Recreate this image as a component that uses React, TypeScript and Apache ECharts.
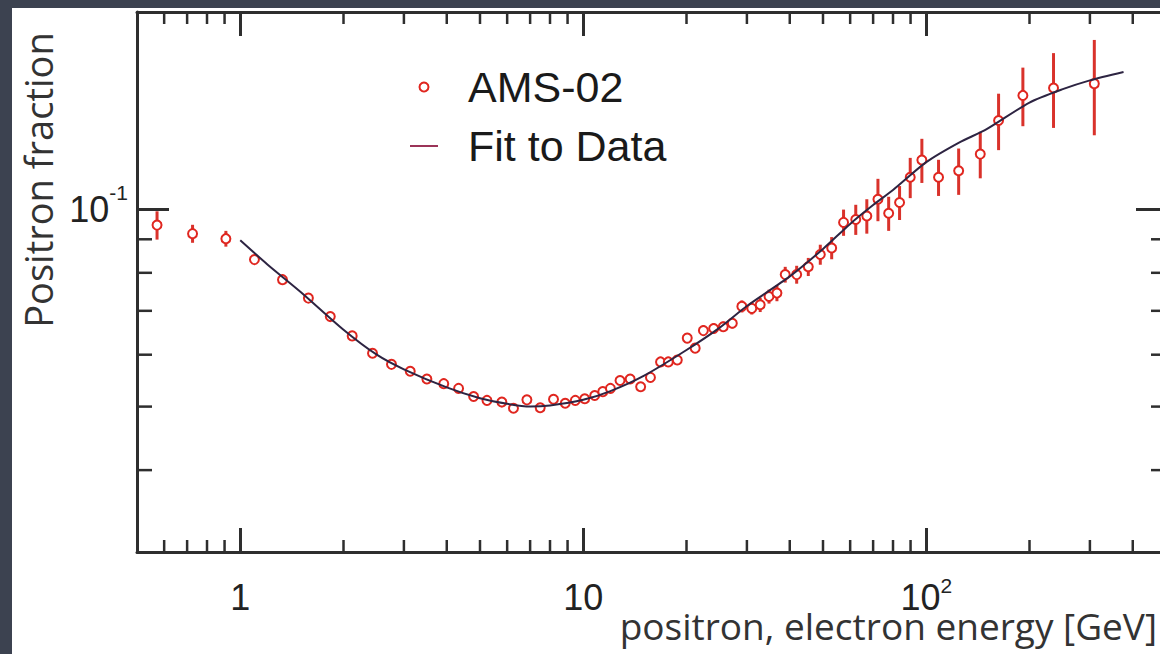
import React, { useEffect, useRef } from "react";
import * as echarts from "echarts";

// AMS-02 positron fraction data points (energy in GeV)
const energy = [
  0.572, 0.726, 0.908, 1.1, 1.328, 1.58, 1.83, 2.12, 2.43, 2.76,
  3.13, 3.5, 3.92, 4.33, 4.79, 5.24, 5.79, 6.26, 6.85, 7.49,
  8.19, 8.86, 9.48, 10.1, 10.8, 11.4, 12.0, 12.8, 13.7, 14.7,
  15.7, 16.8, 17.7, 18.8, 20.1, 21.2, 22.4, 24.0, 25.6, 27.2,
  29.0, 31.0, 32.8, 34.8, 36.7, 38.8, 41.9, 45.3, 49.1, 53.0,
  57.4, 62.3, 67.1, 72.3, 77.7, 83.6, 89.8, 97.1, 108.6, 124.3,
  143.7, 162.5, 191.3, 235, 309,
];
const fraction = [
  0.0946, 0.0918, 0.0902, 0.0838, 0.0781, 0.0732, 0.0686, 0.0641, 0.0603, 0.058,
  0.0566, 0.0551, 0.0542, 0.0533, 0.0518, 0.0511, 0.0508, 0.0497, 0.0512, 0.0498,
  0.0513, 0.0506, 0.0511, 0.0514, 0.052, 0.0527, 0.0533, 0.0548, 0.0551, 0.0536,
  0.0554, 0.0585, 0.0585, 0.0589, 0.0636, 0.0614, 0.0653, 0.0658, 0.0662, 0.067,
  0.0711, 0.0706, 0.0715, 0.0736, 0.0745, 0.0795, 0.0795, 0.0817, 0.0853, 0.0873,
  0.0955, 0.0965, 0.0977, 0.1036, 0.0986, 0.1024, 0.1119, 0.1189, 0.1119, 0.1145,
  0.1214, 0.1366, 0.1492, 0.1531, 0.1555,
];
const fractionError = [
  0.0047, 0.0029, 0.0025, 0.0012, 0.0008, 0.0008, 0.0007, 0.0007, 0.0006, 0.0006,
  0.0006, 0.0006, 0.0006, 0.0006, 0.0006, 0.0006, 0.0006, 0.0006, 0.0006, 0.0006,
  0.0006, 0.0006, 0.0006, 0.0006, 0.0006, 0.0006, 0.0006, 0.0006, 0.0006, 0.0008,
  0.0008, 0.0008, 0.0008, 0.0008, 0.0009, 0.0009, 0.0012, 0.0012, 0.0012, 0.0012,
  0.0015, 0.0015, 0.0018, 0.0018, 0.0021, 0.0022, 0.0025, 0.0026, 0.003, 0.0034,
  0.0044, 0.0051, 0.0059, 0.0077, 0.0059, 0.0061, 0.0079, 0.0092, 0.0071, 0.0093,
  0.0099, 0.0135, 0.0153, 0.02, 0.0258,
];

// Fit curve
const fitEnergy = [
  1.0, 1.2, 1.5, 2, 2.5, 3, 4, 5, 6, 7, 8, 10, 12, 15, 20, 25, 30, 40, 50, 60,
  70, 80, 100, 125, 150, 200, 250, 300, 376,
];
const fitFraction = [
  0.0897, 0.0824, 0.0748, 0.0655, 0.06, 0.057, 0.0535, 0.0515, 0.0505, 0.05,
  0.0502, 0.0512, 0.0528, 0.0557, 0.061, 0.066, 0.0712, 0.079, 0.087, 0.095,
  0.1015, 0.107, 0.118, 0.1265, 0.1325, 0.1455, 0.1525, 0.1573, 0.162,
];

// Axis ranges and tick values
const X_MIN = 0.5;
const X_MAX = 500;
const Y_MIN = 0.03;
const Y_MAX = 0.2;
const minorTicksX = [0.6, 0.7, 0.8, 0.9, 2, 3, 4, 5, 6, 7, 8, 9, 20, 30, 40, 50, 60, 70, 80, 90, 200, 300, 400];
const minorTicksY = [0.04, 0.05, 0.06, 0.07, 0.08, 0.09];
const xTickLabels = [
  { value: 1, text: "{n|1}" },
  { value: 10, text: "{n|10}" },
  { value: 100, text: "{n|10}{s|2}" },
];
const yTickLabels = [{ value: 0.1, text: "{n|10}{s|-1}" }];

const xTitle = "positron, electron energy [GeV]";
const yTitle = "Positron fraction";

const AXIS_COLOR = "#2e2e2e";
const RED = "#e0261f";
const LABEL_FONT = '"Liberation Sans", Arial, Helvetica, sans-serif';
const TITLE_FONT = '"Open Sans", "Noto Sans", sans-serif';

const richX = {
  n: { fontFamily: LABEL_FONT, fontSize: 36, color: "#222", lineHeight: 28, padding: [9, 0, 0, 0] },
  s: { fontFamily: LABEL_FONT, fontSize: 21, color: "#222", lineHeight: 21, padding: [0, 0, 16, 0] },
};
const richY = {
  n: { fontFamily: LABEL_FONT, fontSize: 36, color: "#222", lineHeight: 28, padding: [13, 0, 13, 0] },
  s: { fontFamily: LABEL_FONT, fontSize: 21, color: "#222", lineHeight: 21, padding: [0, 0, 33, 0] },
};

function matchLabel(list: { value: number; text: string }[], v: number) {
  for (const item of list) {
    if (Math.abs(Math.log10(v) - Math.log10(item.value)) < 1e-6) return item.text;
  }
  return "";
}

export default function App() {
  const ref = useRef<HTMLDivElement>(null);

  useEffect(() => {
    if (!ref.current) return;
    const chart = echarts.init(ref.current, null, { renderer: "svg" });

    const axisLine = { show: true, onZero: false, lineStyle: { color: AXIS_COLOR, width: 3 } };

    const option: any = {
      animation: false,
      backgroundColor: "#ffffff",
      tooltip: { show: false },
      grid: { left: 125, right: 6, top: 4, bottom: 102, containLabel: false },
      legend: {
        orient: "vertical",
        left: 393,
        top: 50,
        itemWidth: 28,
        itemHeight: 9,
        itemGap: 11,
        selectedMode: false,
        textStyle: {
          fontFamily: LABEL_FONT,
          fontSize: 43,
          color: "#1a1a1a",
          lineHeight: 48,
          padding: [0, 0, 0, 25],
        },
        data: [
          {
            name: "AMS-02",
            icon: "circle",
            itemStyle: { color: "#ffffff", borderColor: RED, borderWidth: 2 },
          },
          {
            name: "Fit to Data",
            icon: "path://M0,0L28,0L28,2L0,2Z",
            itemStyle: { color: "#9b3458", borderWidth: 0 },
          },
        ],
      },
      xAxis: [
        {
          type: "log",
          logBase: 10,
          min: X_MIN,
          max: X_MAX,
          position: "bottom",
          axisLine,
          axisTick: { show: true, inside: true, length: 24, lineStyle: { color: AXIS_COLOR, width: 3 } },
          axisLabel: {
            show: true,
            margin: 27,
            formatter: (v: number) => matchLabel(xTickLabels, v),
            rich: richX,
          },
          splitLine: { show: false },
        },
        {
          type: "log",
          logBase: 10,
          min: X_MIN,
          max: X_MAX,
          position: "top",
          axisLine,
          axisTick: { show: true, inside: true, length: 24, lineStyle: { color: AXIS_COLOR, width: 3 } },
          axisLabel: { show: false },
          splitLine: { show: false },
        },
      ],
      yAxis: [
        {
          type: "log",
          logBase: 10,
          min: Y_MIN,
          max: Y_MAX,
          position: "left",
          axisLine,
          axisTick: { show: true, inside: true, length: 32, lineStyle: { color: AXIS_COLOR, width: 3 } },
          axisLabel: {
            show: true,
            margin: 9,
            formatter: (v: number) => matchLabel(yTickLabels, v),
            rich: richY,
          },
          splitLine: { show: false },
        },
        {
          type: "log",
          logBase: 10,
          min: Y_MIN,
          max: Y_MAX,
          position: "right",
          axisLine,
          axisTick: { show: true, inside: true, length: 30, lineStyle: { color: AXIS_COLOR, width: 3 } },
          axisLabel: { show: false },
          splitLine: { show: false },
        },
      ],
      graphic: [
        {
          type: "text",
          x: 26,
          y: 172,
          rotation: Math.PI / 2,
          style: {
            text: yTitle,
            fontFamily: TITLE_FONT,
            fontSize: 38,
            lineHeight: 40,
            fill: "#333",
            align: "center",
            verticalAlign: "middle",
          },
        },
        {
          type: "text",
          x: 1145,
          y: 617,
          style: {
            text: xTitle,
            fontFamily: TITLE_FONT,
            fontSize: 37,
            lineHeight: 28,
            fill: "#333",
            align: "right",
            verticalAlign: "middle",
          },
        },
      ],
      series: [
        {
          name: "minor ticks x",
          type: "custom",
          xAxisIndex: 0,
          yAxisIndex: 0,
          silent: true,
          z: 6,
          data: minorTicksX.map((v) => [v, Y_MIN]),
          renderItem: (_p: any, api: any) => {
            const v = api.value(0);
            const b = api.coord([v, Y_MIN]);
            const t = api.coord([v, Y_MAX]);
            const st = { stroke: AXIS_COLOR, lineWidth: 2.5 };
            return {
              type: "group",
              children: [
                { type: "line", shape: { x1: b[0], y1: b[1], x2: b[0], y2: b[1] - 12 }, style: st },
                { type: "line", shape: { x1: t[0], y1: t[1], x2: t[0], y2: t[1] + 12 }, style: st },
              ],
            };
          },
        },
        {
          name: "minor ticks y",
          type: "custom",
          xAxisIndex: 0,
          yAxisIndex: 0,
          silent: true,
          z: 6,
          data: minorTicksY.map((v) => [X_MIN, v]),
          renderItem: (_p: any, api: any) => {
            const v = api.value(1);
            const l = api.coord([X_MIN, v]);
            const r = api.coord([X_MAX, v]);
            const st = { stroke: AXIS_COLOR, lineWidth: 2.5 };
            return {
              type: "group",
              children: [
                { type: "line", shape: { x1: l[0], y1: l[1], x2: l[0] + 15, y2: l[1] }, style: st },
                { type: "line", shape: { x1: r[0], y1: r[1], x2: r[0] - 15, y2: r[1] }, style: st },
              ],
            };
          },
        },
        {
          name: "error bars",
          type: "custom",
          xAxisIndex: 0,
          yAxisIndex: 0,
          silent: true,
          z: 2,
          encode: { x: 0, y: [1, 2] },
          data: energy.map((e, i) => [e, fraction[i] - fractionError[i], fraction[i] + fractionError[i]]),
          renderItem: (_p: any, api: any) => {
            const e = api.value(0);
            const lo = api.coord([e, api.value(1)]);
            const hi = api.coord([e, api.value(2)]);
            return {
              type: "line",
              shape: { x1: lo[0], y1: lo[1], x2: hi[0], y2: hi[1] },
              style: { stroke: "#d9322b", lineWidth: 3 },
            };
          },
        },
        {
          name: "AMS-02",
          type: "scatter",
          xAxisIndex: 0,
          yAxisIndex: 0,
          z: 3,
          symbol: "circle",
          symbolSize: 9,
          itemStyle: { color: "#ffffff", borderColor: RED, borderWidth: 2, opacity: 1 },
          data: energy.map((e, i) => [e, fraction[i]]),
        },
        {
          name: "Fit to Data",
          type: "line",
          xAxisIndex: 0,
          yAxisIndex: 0,
          z: 4,
          showSymbol: false,
          symbol: "none",
          smooth: 0.25,
          lineStyle: { color: "#2d2442", width: 2 },
          itemStyle: { color: "#9b3458" },
          data: fitEnergy.map((e, i) => [e, fitFraction[i]]),
        },
      ],
    };

    chart.setOption(option);
    return () => chart.dispose();
  }, []);

  return (
    <div
      style={{
        position: "fixed",
        left: 0,
        top: 0,
        width: 1160,
        height: 654,
        overflow: "hidden",
        background: "#3c4250",
      }}
    >
      <div
        ref={ref}
        style={{ position: "absolute", left: 12, top: 8, width: 1160, height: 646, background: "#ffffff" }}
      />
    </div>
  );
}
